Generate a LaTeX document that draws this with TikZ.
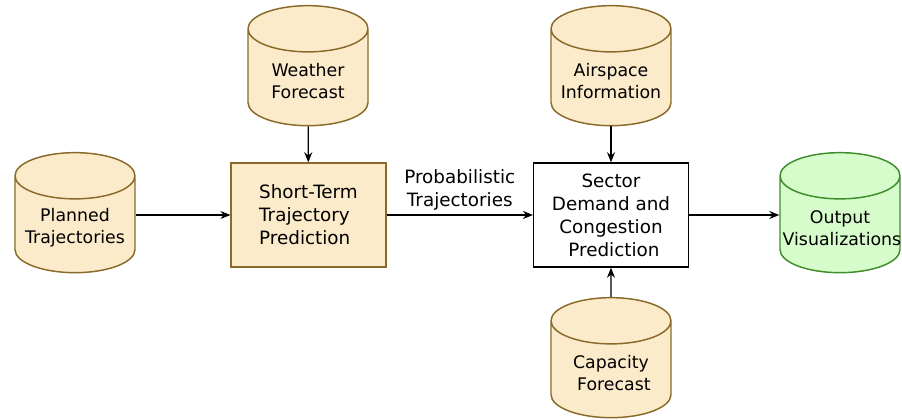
\documentclass[tikz,border=0pt]{standalone}
\usepackage{fontspec}
\setmainfont{DejaVu Sans}
\usepackage{xcolor}
\usepackage{tikz}
\usetikzlibrary{shapes.geometric,arrows.meta,positioning,calc}

\definecolor{tanfill}{HTML}{FCEBCA}
\definecolor{tanline}{HTML}{8A6A2A}
\definecolor{greenfill}{HTML}{D6FCCB}
\definecolor{greenline}{HTML}{3F8D2B}

\begin{document}
\begin{tikzpicture}[
    x=0.75pt, y=0.75pt,
    every node/.style={font=\fontsize{13.75}{17.25}\selectfont, align=center},
    db/.style={cylinder, shape border rotate=90, aspect=0.385, draw=tanline, fill=tanfill, line width=1.1pt, text width=86pt, minimum height=90pt, inner sep=2pt, font=\fontsize{13}{16.5}\selectfont},
    box/.style={rectangle, draw, line width=1.1pt, minimum width=116pt, minimum height=78pt, inner sep=2pt},
    arrow/.style={-{Stealth[length=7.5pt, width=6pt]}, line width=0.9pt}
]
\useasboundingbox (0,0) rectangle (902,420);

% Sources
\node[db] (planned) at (75,192) {Planned\\Trajectories};
\node[db] (weather) at (308,339) {Weather\\Forecast};
\node[db] (airspace) at (611,339) {Airspace\\Information};
\node[db] (capacity) at (611,47) {Capacity\\\ Forecast};

% Processing
\node[box, draw=tanline, fill=tanfill, align=left] (stp) at (308.5,205) {Short-Term\\Trajectory\\Prediction};
\node[box, fill=white] (sector) at (611,205) {Sector\\Demand and\\Congestion\\\ Prediction};

% Output
\node[db, draw=greenline, fill=greenfill] (output) at (840,192) {Output\\Visualizations};

\draw[arrow] (planned.east |- stp) -- (stp);
\draw[arrow] (weather) -- (stp);
\draw[arrow] (stp) -- node[above, inner sep=3pt] {Probabilistic\\Trajectories} (sector);
\draw[arrow] (airspace) -- (sector);
\draw[arrow] (capacity) -- (sector);
\draw[arrow] (sector) -- (output.west |- sector);

\end{tikzpicture}
\end{document}
